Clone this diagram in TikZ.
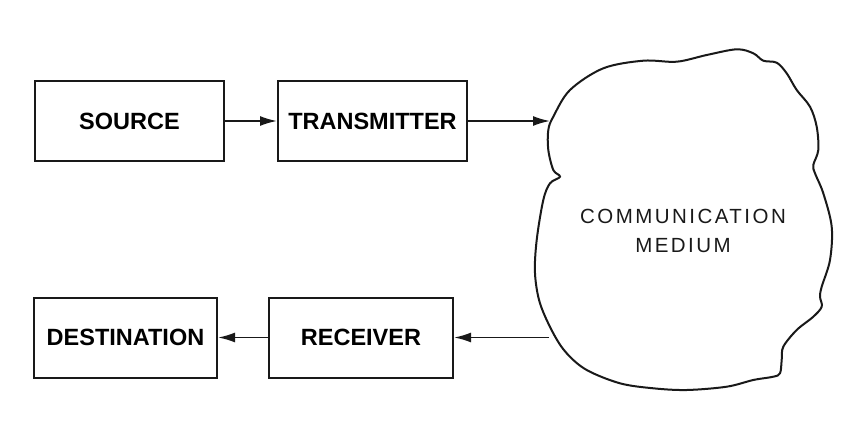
\documentclass[tikz,border=0pt]{standalone}
\usepackage{fontspec}
\setmainfont{Liberation Sans}
\usetikzlibrary{arrows.meta}
\begin{document}
\begin{tikzpicture}[x=1pt,y=-1pt,
  blockbox/.style={draw=black!90, line width=2pt, minimum height=80pt, inner sep=0pt,
    font=\fontsize{23.5}{26}\selectfont\bfseries, text=black},
  flow/.style={draw=black!90, line width=1.8pt, -{Latex[length=17pt,width=10pt]}},
  cloudline/.style={draw=black!90, line width=2pt}]
\useasboundingbox (0,0) rectangle (852,428);
% blocks
\node[blockbox, minimum width=189pt] (src) at (129.5,121) {SOURCE};
\node[blockbox, minimum width=189pt] (tx) at (372.5,121) {TRANSMITTER};
\node[blockbox, minimum width=183pt] (dst) at (125.5,337.5) {DESTINATION};
\node[blockbox, minimum width=184pt] (rx) at (361,337.5) {RECEIVER};
% channel outline
\draw[cloudline] plot[smooth cycle, tension=0.55] coordinates {
 (553.3,116.7) (570,90) (603.3,68.3) (643.3,60.7) (676.7,61.7) (706.7,55)
 (736.7,49.3) (753.3,53.3) (763.3,60.7) (776.7,62.7) (786.7,73.3) (796.7,90)
 (810,106.7) (816.7,126.7) (818.3,150) (813.3,165) (815,173.3) (823.3,193.3)
 (831.7,226.7) (830,260) (821.7,286.7) (820,296.7) (821.7,306.7) (813.3,316.7)
 (796.7,330) (783.3,346.7) (781.7,360) (780,373.3) (773.3,376.7) (753.3,380)
 (726.7,386.7) (686.7,390) (653.3,388.3) (620,383.3) (586.7,370) (566.7,353.3)
 (553.3,333.3) (540,303.3) (535,273.3) (536.7,240) (543.3,200) (550,183.3)
 (560,176.7) (553.3,170) (548.3,150) (548.3,130)};
\node[font=\fontsize{20.5}{29}\selectfont\addfontfeature{LetterSpace=12}, text=black!90, align=center]
  (med) at (683,231) {COMMUNICATION\\MEDIUM};
\coordinate (medin) at (550,121);
\coordinate (medout) at (549,337.5);
% connectors
\draw[flow] (src) -- (tx);
\draw[flow] (tx) -- (medin);
\draw[flow] (medout) -- (rx);
\draw[flow] (rx) -- (dst);
\end{tikzpicture}
\end{document}
